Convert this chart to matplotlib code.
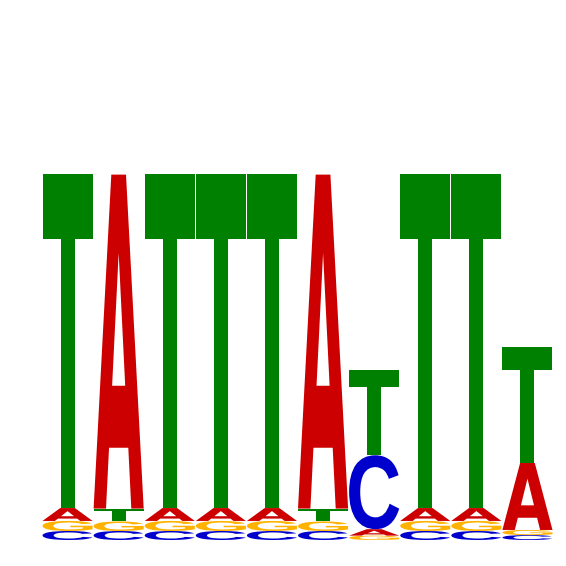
import numpy as np
import matplotlib
matplotlib.use("Agg")
import matplotlib.pyplot as plt
from matplotlib.textpath import TextPath
from matplotlib.patches import PathPatch
from matplotlib.font_manager import FontProperties
from matplotlib.transforms import Affine2D

# Sequence logo heights (bits) per position
positions = [1, 2, 3, 4, 5, 6, 7, 8, 9, 10]
A_bits = [0.050, 1.297, 0.050, 0.050, 0.050, 1.297, 0.025, 0.050, 0.050, 0.260]
C_bits = [0.035, 0.035, 0.035, 0.035, 0.035, 0.035, 0.287, 0.035, 0.035, 0.019]
G_bits = [0.039, 0.037, 0.039, 0.039, 0.039, 0.037, 0.017, 0.039, 0.039, 0.020]
T_bits = [1.297, 0.050, 1.297, 1.297, 1.297, 0.050, 0.330, 1.297, 1.297, 0.450]

letters = ["A", "C", "G", "T"]
colors = {"A": "#CC0000", "C": "#0000CC", "G": "#FFB300", "T": "#008000"}
heights = {"A": A_bits, "C": C_bits, "G": G_bits, "T": T_bits}

fp_dv = FontProperties(family=["DejaVu Sans"], weight="bold")
fp_lib = FontProperties(family=["Liberation Sans", "DejaVu Sans"], weight="bold")
fonts = {"A": fp_dv, "T": fp_dv, "C": fp_lib, "G": fp_lib}

fig = plt.figure(figsize=(5.66, 5.66), dpi=100)
ax = fig.add_axes([42 / 566, 26 / 566, 511 / 566, 515 / 566])
ax.set_xlim(0.5, 10.5)
ax.set_ylim(0, 2)
ax.axis("off")

letter_width = 0.98


def draw_letter(ax, ch, x, y, w, h, color):
    tp = TextPath((0, 0), ch, size=1, prop=fonts[ch])
    ext = tp.get_extents()
    sx = w / ext.width
    sy = h / ext.height
    tr = (Affine2D()
          .translate(-ext.x0, -ext.y0)
          .scale(sx, sy)
          .translate(x - w / 2, y))
    path = tr.transform_path(tp)
    ax.add_patch(PathPatch(path, facecolor=color, edgecolor="none", lw=0))


for i, pos in enumerate(positions):
    col = sorted(letters, key=lambda L: heights[L][i])
    y = 0.0
    for L in col:
        h = heights[L][i]
        if h > 0:
            draw_letter(ax, L, pos, y, letter_width, h, colors[L])
        y += h

fig.savefig("out.png", dpi=100, facecolor="white")
